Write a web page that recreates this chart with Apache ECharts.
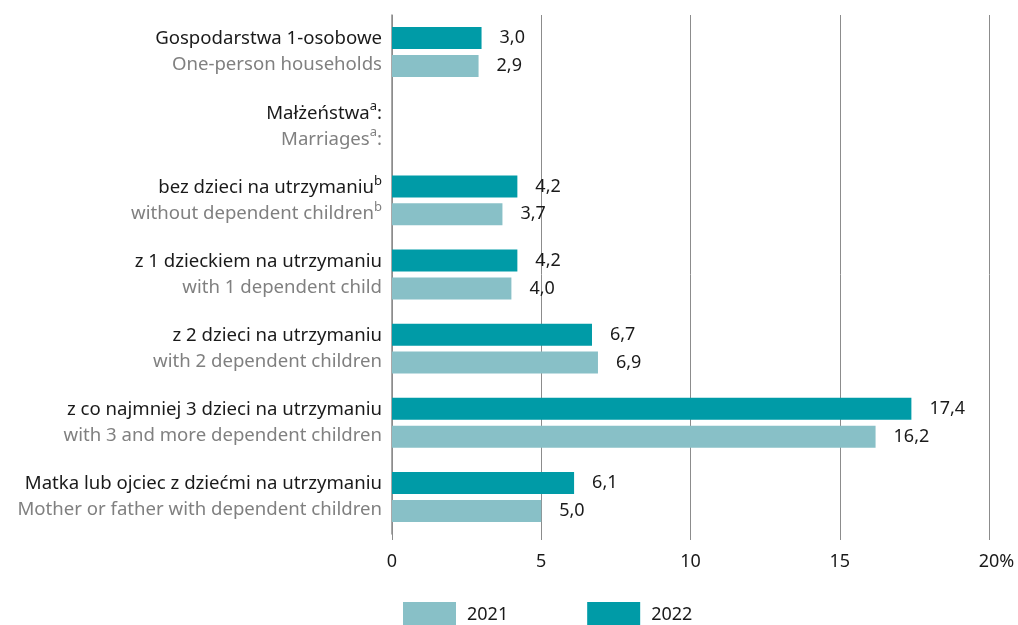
<!DOCTYPE html>
<html>
<head>
<meta charset="utf-8">
<script src="https://cdn.jsdelivr.net/npm/echarts@6/dist/echarts.min.js"></script>
<style>
  html, body { margin: 0; padding: 0; background: #fff; }
  #chart { width: 1018px; height: 625px; }
</style>
</head>
<body>
<div id="chart"></div>
<script>
// kategorie (^x = indeks górny)
var categoriesPl = ['Gospodarstwa 1-osobowe', 'Małżeństwa^a:', 'bez dzieci na utrzymaniu^b', 'z 1 dzieckiem na utrzymaniu',
	'z 2 dzieci na utrzymaniu', 'z co najmniej 3 dzieci na utrzymaniu', 'Matka lub ojciec z dziećmi na utrzymaniu'];
var categoriesEn = ['One-person households', 'Marriages^a:', 'without dependent children^b', 'with 1 dependent child',
	'with 2 dependent children', 'with 3 and more dependent children', 'Mother or father with dependent children'];
var values2021 = [2.9, null, 3.7, 4.0, 6.9, 16.2, 5.0];
var values2022 = [3.0, null, 4.2, 4.2, 6.7, 17.4, 6.1];

var FONT = '"Noto Sans", sans-serif';

function richLine(txt, style) {
	// zamiana ^a na indeks górny
	return '{' + style + '|' + txt.replace(/\^(\w)/g, '}{' + style + 's|$1}{' + style + '|') + '}';
}

var myChart = echarts.init(document.getElementById('chart'));

var labelOpt = {
	show: true,
	position: 'right',
	distance: 18,
	color: '#1a1a1a',
	fontFamily: FONT,
	fontSize: 18,
	formatter: function(p) {
		return p.value == null ? '' : p.value.toFixed(1).replace('.', ',');
	}
};

var option = {
	animation: false,
	grid: { left: 392, right: 29, top: 15, bottom: 91, containLabel: false },
	legend: {
		data: ['2021', '2022'],
		left: 398,
		top: 597,
		itemWidth: 53,
		itemHeight: 25,
		itemGap: 79,
		textStyle: { fontFamily: FONT, fontSize: 18, color: '#1a1a1a', padding: [0, 0, 0, 6] },
		icon: 'rect'
	},
	xAxis: {
		type: 'value',
		min: 0,
		max: 20,
		interval: 5,
		axisLine: { show: false },
		axisTick: { show: true, length: 6, lineStyle: { color: '#8c8c8c' } },
		splitLine: { show: true, lineStyle: { color: '#8c8c8c', width: 1 } },
		axisLabel: {
			margin: 19,
			fontFamily: FONT,
			fontSize: 18,
			color: '#1a1a1a',
			formatter: function(v) { return v === 20 ? '{sp|%}' + v + '%' : String(v); },
			rich: {
				sp: { color: 'transparent', fontFamily: FONT, fontSize: 18 }
			}
		}
	},
	yAxis: {
		type: 'category',
		inverse: true,
		data: categoriesPl.map(function(c, i) { return i; }),
		axisLine: { show: true, lineStyle: { color: '#8c8c8c', width: 1.5 } },
		axisTick: { show: false },
		axisLabel: {
			margin: 10,
			align: 'right',
			formatter: function(v) {
				var i = +v;
				return richLine(categoriesPl[i], 'p') + '\n' + richLine(categoriesEn[i], 'e');
			},
			rich: {
				p: { fontFamily: FONT, fontSize: 18.6, color: '#1a1a1a', lineHeight: 26, verticalAlign: 'middle' },
				ps: { fontFamily: FONT, fontSize: 13, color: '#1a1a1a', lineHeight: 15, verticalAlign: 'top' },
				e: { fontFamily: FONT, fontSize: 18.6, color: '#808080', lineHeight: 26, verticalAlign: 'middle' },
				es: { fontFamily: FONT, fontSize: 13, color: '#808080', lineHeight: 15, verticalAlign: 'top' }
			}
		}
	},
	series: [{
		name: '2022',
		type: 'bar',
		data: values2022,
		barWidth: 22,
		barGap: '27%',
		itemStyle: { color: '#009ba7' },
		label: labelOpt
	}, {
		name: '2021',
		type: 'bar',
		data: values2021,
		barWidth: 22,
		barGap: '27%',
		itemStyle: { color: '#88c0c7' },
		label: labelOpt
	}]
};
myChart.setOption(option);
</script>
</body>
</html>
